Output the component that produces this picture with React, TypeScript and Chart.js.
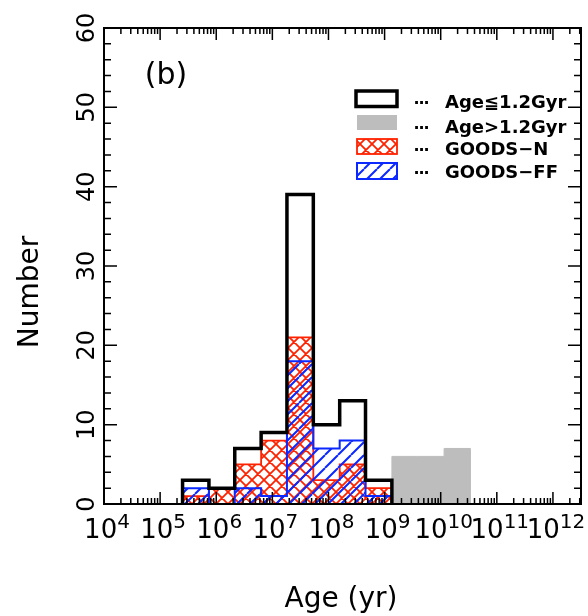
import { useEffect, useRef } from 'react';
import { Chart, registerables } from 'chart.js';

Chart.register(...registerables);

// log10(Age / yr) bin edges and counts
const binEdges = [5.40, 5.87, 6.33, 6.80, 7.26, 7.73, 8.20, 8.66, 9.13];
const youngCounts = [3, 2, 7, 9, 39, 10, 13, 3];
const goodsNCounts = [1, 2, 5, 8, 21, 3, 5, 2];
const goodsFFCounts = [2, 0, 2, 1, 18, 7, 8, 1];
const oldEdges = [9.13, 9.59, 10.06, 10.53];
const oldCounts = [6, 6, 7];

const xMin = 4;
const xMax = 12.5;
const xTickExponents = [4, 5, 6, 7, 8, 9, 10, 11, 12];
const yMin = 0;
const yMax = 60;
const yTickLabels = [0, 10, 20, 30, 40, 50, 60];
const legendLabels = ['Age≦1.2Gyr', 'Age>1.2Gyr', 'GOODS−N', 'GOODS−FF'];
const panelLabel = '(b)';
const xTitle = 'Age (yr)';
const yTitle = 'Number';

const RED = '#ff2200';
const BLUE = '#0a28ff';
const GRAY = '#bdbdbd';
const FONT = '"DejaVu Sans", sans-serif';

function steps(edges: number[], counts: number[]) {
  const pts = [{ x: edges[0], y: 0 }];
  counts.forEach((c, i) => pts.push({ x: edges[i], y: c }));
  pts.push({ x: edges[counts.length], y: 0 });
  return pts;
}

function makeHatch(color: string, size: number, width: number, cross: boolean) {
  const c = document.createElement('canvas');
  c.width = size;
  c.height = size;
  const g = c.getContext('2d')!;
  g.strokeStyle = color;
  g.lineWidth = width;
  g.beginPath();
  for (let k = -1; k <= 1; k++) {
    g.moveTo(k * size, size);
    g.lineTo(k * size + size, 0);
    if (cross) {
      g.moveTo(k * size, 0);
      g.lineTo(k * size + size, size);
    }
  }
  g.stroke();
  return g.createPattern(c, 'repeat')!;
}

export default function App() {
  const ref = useRef<HTMLCanvasElement>(null);

  useEffect(() => {
    const canvas = ref.current!;
    const redPattern = makeHatch(RED, 12, 1.8, true);
    const bluePattern = makeHatch(BLUE, 13, 2, false);

    const axesPlugin = {
      id: 'idlAxes',
      afterDraw(chart: any) {
        const { ctx, chartArea: a, scales } = chart;
        const xs = scales.x;
        const ys = scales.y;
        ctx.save();
        ctx.strokeStyle = '#000';
        ctx.fillStyle = '#000';
        ctx.lineWidth = 1.5;
        ctx.beginPath();
        for (let v = yMin; v <= yMax; v += 2) {
          const py = ys.getPixelForValue(v);
          const len = v % 10 === 0 ? 13 : 7;
          ctx.moveTo(a.left, py);
          ctx.lineTo(a.left + len, py);
          ctx.moveTo(a.right, py);
          ctx.lineTo(a.right - len, py);
        }
        for (let d = Math.floor(xMin); d <= Math.ceil(xMax); d++) {
          for (let k = 1; k <= 9; k++) {
            const lv = d + Math.log10(k);
            if (lv < xMin || lv > xMax) continue;
            const px = xs.getPixelForValue(lv);
            const len = k === 1 ? 12 : 6;
            ctx.moveTo(px, a.bottom);
            ctx.lineTo(px, a.bottom - len);
            ctx.moveTo(px, a.top);
            ctx.lineTo(px, a.top + len);
          }
        }
        ctx.stroke();
        ctx.lineWidth = 2;
        ctx.strokeRect(a.left, a.top, a.right - a.left, a.bottom - a.top);

        // x tick labels 10^n
        const baseFont = `26px ${FONT}`;
        const supFont = `20px ${FONT}`;
        ctx.textAlign = 'left';
        ctx.textBaseline = 'alphabetic';
        xTickExponents.forEach((e) => {
          const px = xs.getPixelForValue(e);
          ctx.font = baseFont;
          const w1 = ctx.measureText('10').width;
          ctx.font = supFont;
          const w2 = ctx.measureText(String(e)).width;
          const x0 = px + 3 - (w1 + w2) / 2;
          ctx.font = baseFont;
          ctx.fillText('10', x0, 538);
          ctx.font = supFont;
          ctx.fillText(String(e), x0 + w1, 528);
        });

        // y tick labels (rotated)
        ctx.font = `24px ${FONT}`;
        ctx.textAlign = 'center';
        ctx.textBaseline = 'middle';
        yTickLabels.forEach((v) => {
          const py = ys.getPixelForValue(v);
          ctx.save();
          ctx.translate(88, py);
          ctx.rotate(-Math.PI / 2);
          ctx.fillText(String(v), 0, 0);
          ctx.restore();
        });

        // axis titles
        ctx.font = `28px ${FONT}`;
        ctx.textAlign = 'center';
        ctx.textBaseline = 'alphabetic';
        ctx.fillText(xTitle, 341, 607);
        ctx.save();
        ctx.translate(38, 292);
        ctx.rotate(-Math.PI / 2);
        ctx.fillText(yTitle, 0, 0);
        ctx.restore();

        // panel label
        ctx.font = `30px ${FONT}`;
        ctx.textBaseline = 'middle';
        ctx.fillText(panelLabel, 166, 76);

        // legend
        const boxes = [
          [356, 91, 41, 15.5],
          [357, 115, 40, 15],
          [357, 139, 40, 15],
          [357, 163, 40, 16],
        ];
        const baselines = [108, 133, 155, 178];
        ctx.lineWidth = 3.5;
        ctx.strokeStyle = '#000';
        ctx.strokeRect(boxes[0][0], boxes[0][1], boxes[0][2], boxes[0][3]);
        ctx.fillStyle = GRAY;
        ctx.fillRect(boxes[1][0], boxes[1][1], boxes[1][2], boxes[1][3]);
        ctx.fillStyle = redPattern;
        ctx.fillRect(boxes[2][0], boxes[2][1], boxes[2][2], boxes[2][3]);
        ctx.lineWidth = 1.8;
        ctx.strokeStyle = RED;
        ctx.strokeRect(boxes[2][0], boxes[2][1], boxes[2][2], boxes[2][3]);
        ctx.fillStyle = bluePattern;
        ctx.fillRect(boxes[3][0], boxes[3][1], boxes[3][2], boxes[3][3]);
        ctx.lineWidth = 2;
        ctx.strokeStyle = BLUE;
        ctx.strokeRect(boxes[3][0], boxes[3][1], boxes[3][2], boxes[3][3]);

        ctx.fillStyle = '#000';
        ctx.textAlign = 'center';
        ctx.textBaseline = 'alphabetic';
        ctx.font = `bold 16px ${FONT}`;
        legendLabels.forEach((lab, i) => {
          [416.5, 421.5, 426.5].forEach((dx) => ctx.fillText('.', dx, baselines[i] - 4));
        });
        ctx.textAlign = 'left';
        ctx.font = `bold 18px ${FONT}`;
        legendLabels.forEach((lab, i) => {
          ctx.fillText(lab, 445, baselines[i]);
        });
        ctx.restore();
      },
    };

    const common = { stepped: true, pointRadius: 0, pointHoverRadius: 0, borderJoinStyle: 'miter' as const };

    const chart = new Chart(canvas, {
      type: 'line',
      data: {
        datasets: [
          {
            label: legendLabels[0],
            data: steps(binEdges, youngCounts),
            borderColor: '#000',
            borderWidth: 3.5,
            fill: false,
            order: 0,
            ...common,
          },
          {
            label: legendLabels[3],
            data: steps(binEdges, goodsFFCounts),
            borderColor: BLUE,
            borderWidth: 2,
            backgroundColor: bluePattern,
            fill: 'origin',
            order: 1,
            ...common,
          },
          {
            label: legendLabels[2],
            data: steps(binEdges, goodsNCounts),
            borderColor: RED,
            borderWidth: 1.8,
            backgroundColor: redPattern,
            fill: 'origin',
            order: 2,
            ...common,
          },
          {
            label: legendLabels[1],
            data: steps(oldEdges, oldCounts),
            borderColor: GRAY,
            borderWidth: 1,
            backgroundColor: GRAY,
            fill: 'origin',
            order: 3,
            ...common,
          },
        ],
      },
      options: {
        animation: false,
        responsive: false,
        layout: { padding: { left: 104, right: 7, top: 28, bottom: 112 } },
        plugins: { legend: { display: false }, tooltip: { enabled: false } },
        scales: {
          x: { type: 'linear', min: xMin, max: xMax, display: false },
          y: { type: 'linear', min: yMin, max: yMax, display: false },
        },
      } as any,
      plugins: [axesPlugin],
    });
    return () => chart.destroy();
  }, []);

  return (
    <div style={{ position: 'absolute', left: 0, top: 0, width: 588, height: 616, background: '#fff' }}>
      <canvas ref={ref} width={588} height={616} style={{ width: 588, height: 616, display: 'block' }} />
    </div>
  );
}
